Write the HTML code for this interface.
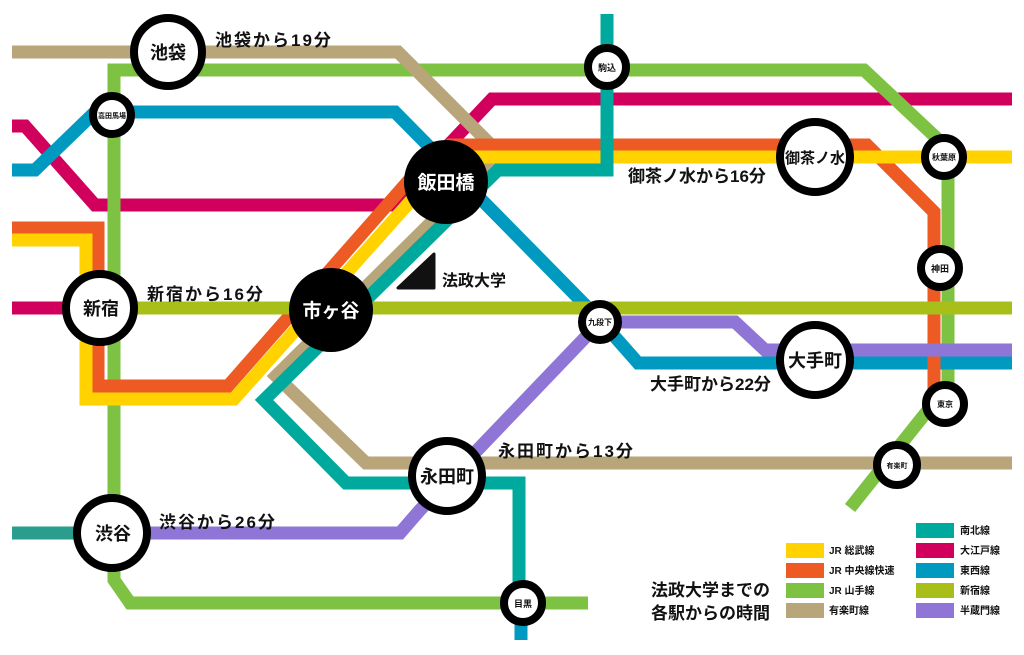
<!DOCTYPE html>
<html><head><meta charset="utf-8"><style>
html,body{margin:0;padding:0;background:#fff;width:1024px;height:655px;overflow:hidden}
svg text{font-family:"Liberation Sans","Noto Sans CJK JP",sans-serif;font-weight:bold;fill:#111}
</style></head><body>
<svg width="1024" height="655" viewBox="0 0 1024 655" xmlns="http://www.w3.org/2000/svg">
<g fill="none" stroke-width="13" stroke-linejoin="miter">
<polyline stroke="#D1005D" points="12,126 25,126 95,205 392,205 492,99 1012,99"/>
<polyline stroke="#D1005D" points="12,308 80,308"/>
<polyline stroke="#7DC242" points="588,603 130,603 114,580 114,70 864,70 944,145 948,170 948,385 850,508"/>
<polyline stroke="#0099C0" points="12,170 35,170 95,112 395,112 600,320 638,363 1012,363"/>
<polyline stroke="#B8A57A" points="12,52 398,52 500,154 474,180 276,376 366,463 1012,463"/>
<polyline stroke="#EE5A24" points="12,228 98,228 98,386 228,386 418,170 450,145 867,145 934,212 934,400"/>
<polyline stroke="#FFD200" points="12,240 86,240 86,399 234,399 432,177 456,157 1012,157"/>
<polyline stroke="#00A99D" points="607,14 607,170 498,170 264,400 346,483 519,483 519,600"/>
<polyline stroke="#0099C0" points="521,610 521,640"/>
<polyline stroke="#2A9D8F" points="12,533 80,533"/>
<polyline stroke="#A8BF1A" points="100,308 1012,308"/>
<polyline stroke="#8F76D6" points="150,533 400,533 420,510 600,322 735,322 765,350 1012,350"/>
</g>
<polygon points="398,288 434,288 434,254" fill="#111" stroke="#111" stroke-width="3" stroke-linejoin="round"/>
<text x="442" y="286" font-size="16">法政大学</text>
<g fill="#fff" stroke="#000" stroke-width="8">
<circle cx="168" cy="52" r="34"/>
<circle cx="112" cy="115" r="19"/>
<circle cx="607" cy="67" r="19"/>
<circle cx="100" cy="308" r="34"/>
<circle cx="815" cy="157" r="35"/>
<circle cx="944" cy="157" r="19"/>
<circle cx="940" cy="268" r="19"/>
<circle cx="600" cy="322" r="18"/>
<circle cx="815" cy="360" r="35"/>
<circle cx="945" cy="404" r="19"/>
<circle cx="897" cy="465" r="20"/>
<circle cx="447" cy="476" r="35"/>
<circle cx="112" cy="533" r="35"/>
<circle cx="523" cy="603" r="19"/>
</g>
<circle cx="446" cy="182" r="42" fill="#000"/>
<circle cx="331" cy="310" r="42" fill="#000"/>
<g text-anchor="middle">
<text x="168" y="59" font-size="18">池袋</text>
<text x="112" y="118" font-size="7">高田馬場</text>
<text x="607" y="71" font-size="9">駒込</text>
<text x="446" y="189" font-size="19" style="fill:#fff">飯田橋</text>
<text x="331" y="317" font-size="19" style="fill:#fff">市ヶ谷</text>
<text x="101" y="315" font-size="18">新宿</text>
<text x="815" y="163" font-size="15">御茶ノ水</text>
<text x="944" y="160" font-size="8">秋葉原</text>
<text x="940" y="272" font-size="9">神田</text>
<text x="600" y="325" font-size="8">九段下</text>
<text x="815" y="367" font-size="18">大手町</text>
<text x="945" y="407" font-size="8">東京</text>
<text x="897" y="468" font-size="7">有楽町</text>
<text x="447" y="483" font-size="18">永田町</text>
<text x="113" y="540" font-size="18">渋谷</text>
<text x="523" y="607" font-size="9">目黒</text>
</g>
<g font-size="17" letter-spacing="2">
<text x="215" y="46">池袋から19分</text>
<text x="147" y="300">新宿から16分</text>
<text x="498" y="457">永田町から13分</text>
<text x="159" y="528">渋谷から26分</text>
</g>
<g font-size="17">
<text x="628" y="182">御茶ノ水から16分</text>
<text x="650" y="390">大手町から22分</text>
<text x="651" y="596">法政大学までの</text>
<text x="651" y="619">各駅からの時間</text>
</g>
<g>
<rect x="786" y="543" width="38" height="15" fill="#FFD200"/>
<rect x="786" y="563" width="38" height="15" fill="#EE5A24"/>
<rect x="786" y="583" width="38" height="15" fill="#7DC242"/>
<rect x="786" y="603" width="38" height="15" fill="#B8A57A"/>
<rect x="916" y="523" width="38" height="15" fill="#00A99D"/>
<rect x="916" y="543" width="38" height="15" fill="#D1005D"/>
<rect x="916" y="563" width="38" height="15" fill="#0099C0"/>
<rect x="916" y="583" width="38" height="15" fill="#A8BF1A"/>
<rect x="916" y="603" width="38" height="15" fill="#8F76D6"/>
</g>
<g font-size="10">
<text x="829" y="554">JR 総武線</text>
<text x="829" y="574">JR 中央線快速</text>
<text x="829" y="594">JR 山手線</text>
<text x="829" y="614">有楽町線</text>
<text x="960" y="534">南北線</text>
<text x="960" y="554">大江戸線</text>
<text x="960" y="574">東西線</text>
<text x="960" y="594">新宿線</text>
<text x="960" y="614">半蔵門線</text>
</g>
</svg>
</body></html>
